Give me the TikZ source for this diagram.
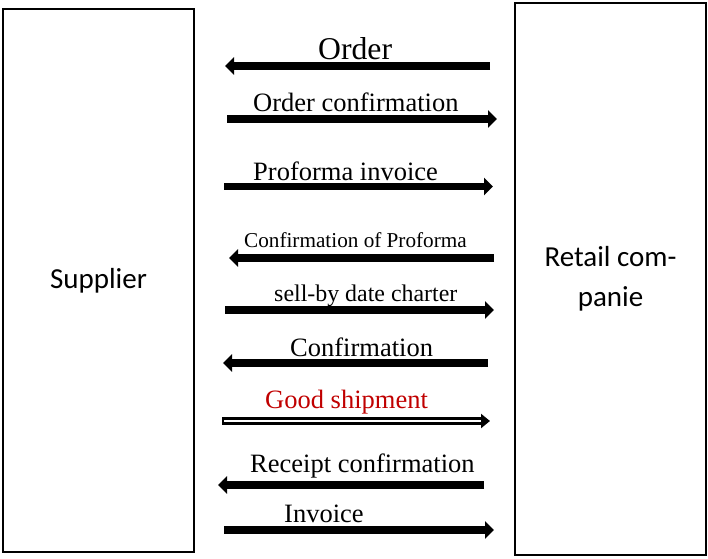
\documentclass[tikz,border=0pt]{standalone}
\usepackage{fontspec}
\setmainfont{Liberation Serif}
\newfontfamily\boxfont{Carlito}
\usetikzlibrary{arrows.meta}
\definecolor{shipred}{HTML}{C00000}
\begin{document}
\begin{tikzpicture}[x=1pt,y=-1pt,
  party/.style={draw=black, line width=2pt, fill=white, minimum width=191pt,
    inner sep=0pt, font=\boxfont\fontsize{29}{40}\selectfont, align=center},
  msg/.style={line width=7.5pt, -{Triangle[length=9pt,width=17pt]}},
  lbl/.style={anchor=base west, inner sep=0pt, font=\fontsize{26.5}{30}\selectfont},
]
\useasboundingbox (0,0) rectangle (708,558);

% the two parties
\node[party, minimum height=543pt] (sup) at (98.5,280.5) {Supplier};
\node[party, minimum height=552pt] (ret) at (610.5,279) {Retail com-\\panie};

% message end points
\coordinate (a1) at (490,66);  \coordinate (b1) at (225,66);
\coordinate (a2) at (227,119); \coordinate (b2) at (497,119);
\coordinate (a3) at (224,186.5); \coordinate (b3) at (493,186.5);
\coordinate (a4) at (494,258); \coordinate (b4) at (229,258);
\coordinate (a5) at (225,310); \coordinate (b5) at (494,310);
\coordinate (a6) at (488,363); \coordinate (b6) at (223,363);
\coordinate (a7) at (222,421); \coordinate (b7) at (490,421);
\coordinate (a8) at (484,485); \coordinate (b8) at (218,485);
\coordinate (a9) at (224,530); \coordinate (b9) at (494,530);

% messages
\draw[msg] (a1) -- (b1);
\draw[msg] (a2) -- (b2);
\draw[msg] (a3) -- (b3);
\draw[msg] (a4) -- (b4);
\draw[msg] (a5) -- (b5);
\draw[msg] (a6) -- (b6);
\draw[msg, -{Triangle[length=9pt,width=14pt]}] (a7) -- (b7);
\draw[white, line width=2.5pt, shorten <=2pt, shorten >=9pt] (a7) -- (b7);
\draw[msg] (a8) -- (b8);
\draw[msg] (a9) -- (b9);

% message labels
\node[lbl, font=\fontsize{31.7}{34}\selectfont] (l1) at (318,59) {Order};
\node[lbl] (l2) at (253,111) {Order confirmation};
\node[lbl] (l3) at (253,180) {Proforma invoice};
\node[lbl, font=\fontsize{21.2}{24}\selectfont] (l4) at (244,247) {Confirmation of Proforma};
\node[lbl, font=\fontsize{23.9}{27}\selectfont] (l5) at (274,301) {sell-by date charter};
\node[lbl] (l6) at (290,356) {Confirmation};
\node[lbl, text=shipred] (l7) at (265,408) {Good shipment};
\node[lbl] (l8) at (250,472) {Receipt confirmation};
\node[lbl] (l9) at (284,522) {Invoice};
\end{tikzpicture}
\end{document}
